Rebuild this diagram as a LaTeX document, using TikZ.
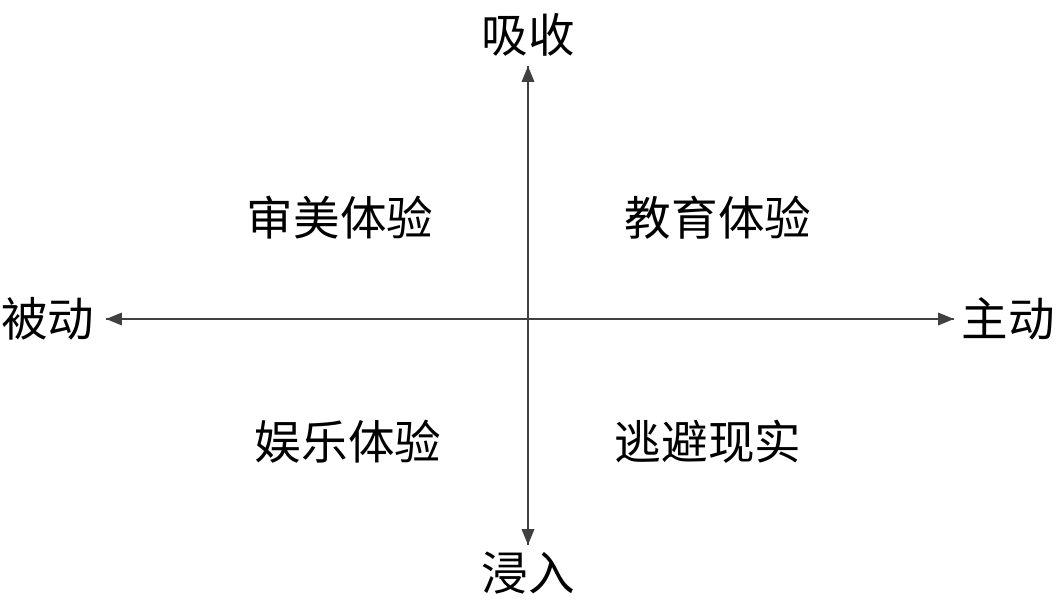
\documentclass[tikz,border=0pt]{standalone}
\usepackage{fontspec}
\newfontfamily\cjk{Noto Sans CJK SC}
\usetikzlibrary{arrows.meta}
\definecolor{axis}{HTML}{404040}
\begin{document}
\begin{tikzpicture}[x=0.02cm,y=-0.02cm,
  lbl/.style={font=\cjk\fontsize{26.5}{30}\selectfont,text=black,inner sep=0pt},
  ax/.style={draw=axis,line width=1.3pt,-{Triangle[length=9pt,width=7pt]}}]
\useasboundingbox (0,0) rectangle (1056,603);
\coordinate (c) at (528,319);
\coordinate (top) at (528,66);
\coordinate (bot) at (528,545);
\coordinate (lft) at (106,319);
\coordinate (rgt) at (954,319);
\draw[ax] (bot) -- (top);
\draw[ax] (top) -- (bot);
\draw[ax] (rgt) -- (lft);
\draw[ax] (lft) -- (rgt);
\node[lbl] (t) at (528,35) {吸收};
\node[lbl] (b) at (528,573) {浸入};
\node[lbl] (l) at (48,319) {被动};
\node[lbl] (r) at (1008,319) {主动};
\node[lbl] (q1) at (340,218) {审美体验};
\node[lbl] (q2) at (718,218) {教育体验};
\node[lbl] (q3) at (348,442) {娱乐体验};
\node[lbl] (q4) at (708,442) {逃避现实};
\end{tikzpicture}
\end{document}
